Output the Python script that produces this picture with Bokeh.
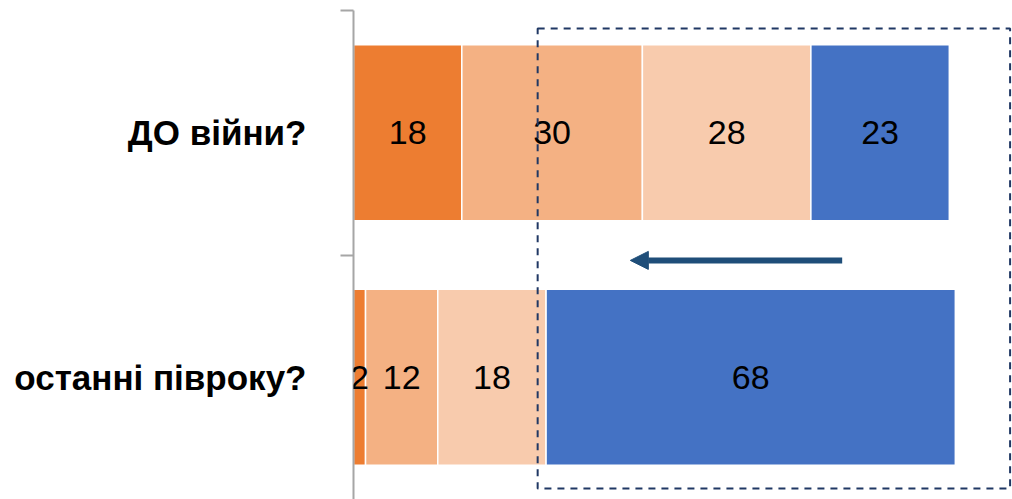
from bokeh.plotting import figure
from bokeh.models import (ColumnDataSource, Range1d, FactorRange, LinearAxis, CategoricalAxis,
                          FixedTicker, LabelSet, BoxAnnotation, Arrow, NormalHead)
from bokeh.core.properties import value
from bokeh.embed import file_html
from bokeh.resources import INLINE

# ---- data ----
categories = ["останні півроку?", "ДО війни?"]   # bottom -> top
series = ["s1", "s2", "s3", "s4"]
s1 = [2, 18]
s2 = [12, 30]
s3 = [18, 28]
s4 = [68, 23]
colors = ["#ED7D31", "#F4B183", "#F8CBAD", "#4472C4"]

data = {"cat": categories, "s1": s1, "s2": s2, "s3": s3, "s4": s4}
source = ColumnDataSource(data)

p = figure(width=1012, height=499, output_backend="svg", toolbar_location=None,
           y_range=FactorRange(factors=categories), x_range=Range1d(0, 109.5),
           x_axis_location=None, y_axis_location=None,
           min_border_left=353, min_border_right=0, min_border_top=10, min_border_bottom=0,
           outline_line_color=None)
p.grid.visible = False
p.background_fill_color = "white"
p.border_fill_color = "white"

p.hbar_stack(series, y="cat", height=0.72, source=source, color=colors,
             line_color="white", line_width=1.5)

# value labels centred in segments
lx, ly, lt = [], [], []
for i, c in enumerate(categories):
    left = 0
    for s in series:
        v = data[s][i]
        lx.append(left + v / 2)
        ly.append(c)
        lt.append(str(v))
        left += v
lab_src = ColumnDataSource(dict(x=lx, y=ly, t=lt))
p.add_layout(LabelSet(x="x", y="y", text="t", source=lab_src, text_align="center",
                      text_baseline="middle", text_color="black",
                      text_font_size=value("34px"), text_font=value("Liberation Sans")))

# axes: tick axis (ticks at category boundaries) nearest the frame, category labels further out
tick_axis = LinearAxis(ticker=FixedTicker(ticks=[1, 2]),
                       major_label_text_font_size="0px", major_label_text_alpha=0,
                       major_label_standoff=0,
                       axis_line_color="#A6A6A6", axis_line_width=2,
                       major_tick_line_color="#A6A6A6", major_tick_line_width=2,
                       major_tick_in=0, major_tick_out=13, minor_tick_line_color=None)
p.add_layout(tick_axis, "left")
cat_axis = CategoricalAxis(axis_line_color=None, major_tick_line_color=None,
                           minor_tick_line_color=None, major_label_standoff=28,
                           major_label_text_font_size="35px", major_label_text_font_style="bold",
                           major_label_text_color="black",
                           major_label_text_font="Liberation Sans")
p.add_layout(cat_axis, "left")

# dashed highlight box
p.add_layout(BoxAnnotation(left=30.6, right=109.1, bottom=0.045, top=1.926,
                           fill_alpha=0, line_color="#203864", line_alpha=1.0,
                           line_width=2, line_dash="7 6"))

# arrow
ac = "#1F4E79"
p.add_layout(Arrow(x_start=81.2, x_end=46.0, y_start=0.978, y_end=0.978,
                   line_color=ac, line_width=6,
                   end=NormalHead(size=18, fill_color=ac, line_color=ac, line_width=1)))

open("out.html", "w").write(file_html(p, INLINE))
